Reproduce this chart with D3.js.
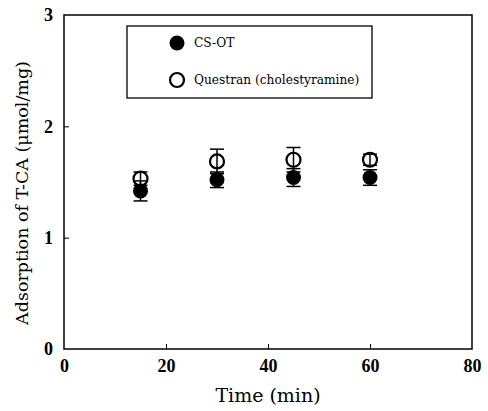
<!DOCTYPE html>
<html><head><meta charset="utf-8">
<script src="https://cdn.jsdelivr.net/npm/d3@7"></script>
<style>body{margin:0;background:#fff}svg{display:block}</style>
</head><body>
<script>
const times = [15, 30, 45, 60];
const csot = [1.42, 1.52, 1.54, 1.54];
const csotErr = [0.09, 0.07, 0.08, 0.07];
const questran = [1.53, 1.685, 1.70, 1.70];
const questranErr = [0.06, 0.11, 0.11, 0.05];
const xTicks = [0, 20, 40, 60, 80];
const yTicks = [0, 1, 2, 3];
const seriesNames = ["CS-OT", "Questran (cholestyramine)"];

const W = 488, H = 411;
const m = {l: 64, r: 16, t: 15, b: 62};
const svg = d3.select("body").append("svg").attr("width", W).attr("height", H);
const x = d3.scaleLinear().domain([0, 80]).range([m.l, W - m.r]);
const y = d3.scaleLinear().domain([0, 3]).range([H - m.b, m.t]);
const font = "'Liberation Serif','DejaVu Serif',serif";
const wide = "'DejaVu Serif','Liberation Serif',serif";

// frame
svg.append("rect").attr("x", x(0)).attr("y", y(3)).attr("width", x(80) - x(0)).attr("height", y(0) - y(3))
  .attr("fill", "none").attr("stroke", "#000").attr("stroke-width", 1.5);

// axes
const xAxis = d3.axisBottom(x).tickValues(xTicks).tickSize(-5).tickPadding(10).tickFormat(d3.format("d"));
const gx = svg.append("g").attr("transform", `translate(0,${y(0)})`).call(xAxis);
const yAxis = d3.axisLeft(y).tickValues(yTicks).tickSize(-5).tickPadding(11).tickFormat(d3.format("d"));
const gy = svg.append("g").attr("transform", `translate(${x(0)},0)`).call(yAxis);
[gx, gy].forEach(g => {
  g.attr("font-family", null).attr("font-size", null);
  g.select(".domain").remove();
  g.selectAll(".tick line").attr("stroke", "#000").attr("stroke-width", 1);
  g.selectAll(".tick text").style("font-family", font).style("font-size", "18px").style("font-weight", "bold").attr("fill", "#000");
});
gx.selectAll(".tick line").filter(d => d === 0 || d === 80).remove();
gy.selectAll(".tick line").filter(d => d === 0 || d === 3).remove();

// axis titles
svg.append("text").attr("x", (x(0) + x(80)) / 2).attr("y", 402).attr("text-anchor", "middle")
  .style("font-family", wide).style("font-size", "19px").text("Time (min)");
svg.append("text").attr("transform", `translate(28,${(y(0) + y(3)) / 2 + 11}) rotate(-90)`).attr("text-anchor", "middle")
  .style("font-family", wide).style("font-size", "17.5px").text("Adsorption of T-CA (μmol/mg)");

// error bars
function errBars(vals, errs) {
  const g = svg.append("g").attr("stroke", "#000").attr("stroke-width", 1.5);
  times.forEach((t, i) => {
    const cx = x(t), y1 = y(vals[i] + errs[i]), y2 = y(vals[i] - errs[i]);
    g.append("line").attr("x1", cx).attr("x2", cx).attr("y1", y1).attr("y2", y2);
    g.append("line").attr("x1", cx - 7).attr("x2", cx + 7).attr("y1", y1).attr("y2", y1);
    g.append("line").attr("x1", cx - 7).attr("x2", cx + 7).attr("y1", y2).attr("y2", y2);
  });
}
errBars(csot, csotErr);
errBars(questran, questranErr);

// markers
svg.append("g").selectAll("circle").data(times).join("circle")
  .attr("cx", d => x(d)).attr("cy", (d, i) => y(csot[i])).attr("r", 7.5).attr("fill", "#000");
svg.append("g").selectAll("circle").data(times).join("circle")
  .attr("cx", d => x(d)).attr("cy", (d, i) => y(questran[i])).attr("r", 7).attr("fill", "none")
  .attr("stroke", "#000").attr("stroke-width", 2.2);

// legend
const lg = svg.append("g");
lg.append("rect").attr("x", 127).attr("y", 26).attr("width", 245).attr("height", 72)
  .attr("fill", "#fff").attr("stroke", "#000").attr("stroke-width", 1.3);
lg.append("circle").attr("cx", 177).attr("cy", 43).attr("r", 7.5).attr("fill", "#000");
lg.append("circle").attr("cx", 177).attr("cy", 80).attr("r", 7).attr("fill", "none").attr("stroke", "#000").attr("stroke-width", 2.2);
seriesNames.forEach((s, i) => {
  lg.append("text").attr("x", 194).attr("y", [47, 84][i]).style("font-family", wide).style("font-size", "12.2px").text(s);
});
</script>
</body></html>
